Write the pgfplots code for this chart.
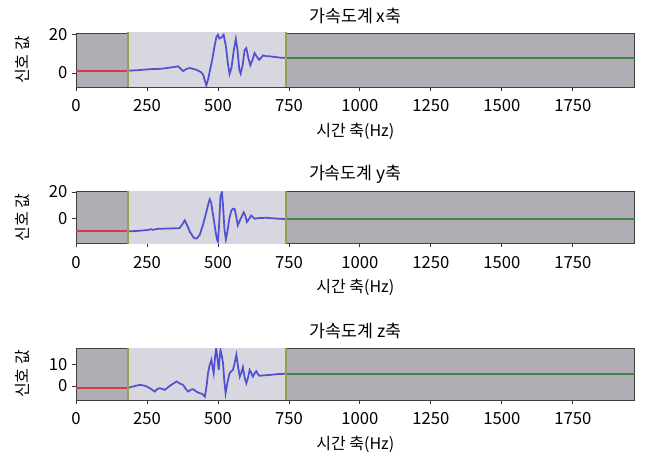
\documentclass[border=0pt]{standalone}
\usepackage{pgfplots}
\pgfplotsset{compat=1.18}
\usepackage{fontspec}
\setmainfont{Noto Sans CJK KR}

\definecolor{outbg}{RGB}{176,174,180}
\definecolor{midbg}{RGB}{216,214,222}
\definecolor{redline}{RGB}{210,60,65}
\definecolor{blueline}{RGB}{80,80,210}
\definecolor{greenline}{RGB}{60,135,75}
\definecolor{markline}{RGB}{150,160,80}

\pgfplotsset{
  accel/.style={
    scale only axis,
    width=419pt,
    xmin=0, xmax=1968,
    xtick={0,250,...,1750},
    axis background/.style={fill=outbg},
    tick align=outside,
    xtick pos=bottom, ytick pos=left,
    major tick length=3pt,
    tick style={black!80, semithick},
    axis line style={black!75},
    ticklabel style={font=\fontsize{12.5}{14}\selectfont},
    xticklabel style={yshift=-3pt},
    /pgf/number format/assume math mode=true,
    /pgf/number format/1000 sep={},
    scaled ticks=false,
    xlabel={시간 축(Hz)},
    ylabel={신호 값},
    every axis x label/.style={at={(axis description cs:0.5,0)}, yshift=-33pt, anchor=center, font=\fontsize{12}{14}\selectfont},
    every axis y label/.style={at={(axis description cs:0,0.5)}, xshift=-40pt, rotate=90, anchor=center, font=\fontsize{12}{14}\selectfont},
    every axis title/.style={at={(axis description cs:0.5,1)}, yshift=13pt, anchor=center, font=\fontsize{13}{15}\selectfont},
  },
  regions/.style={fill=midbg, draw=none, forget plot},
  marker/.style={markline, line width=1.3pt, forget plot},
  sig/.style={line width=1.3pt},
}

\begin{document}
\begin{tikzpicture}
\useasboundingbox (0,0) rectangle (484.5pt,344.25pt);

% x axis accelerometer
\begin{axis}[accel, at={(57pt,279pt)}, height=40.5pt,
  ymin=-7.3, ymax=20.9, ytick={0,20}, title={가속도계 x축}]
  \addplot[regions] coordinates {(182,-40) (740,-40) (740,40) (182,40) (182,-40)};
  \addplot[sig, redline] coordinates {(0,1.2) (182,1.2)};
  \addplot[sig, blueline] coordinates {
    (182,1.2) (220,1.5) (260,2.0) (300,2.2) (330,2.8) (360,3.5) (377,1.0)
    (390,2.2) (401,2.6) (424,1.7) (440,0.5) (448,-0.9) (459,-6.5) (466,-3)
    (471,0.8) (480,7) (489,14.8) (495,19) (500,20) (505,18) (512,18.5)
    (520,20) (528,14) (535,5) (541,-0.5) (548,3) (556,12) (563,17.8)
    (569,12) (575,2) (580,-0.3) (587,4) (594,12) (600,13) (607,8)
    (614,4) (622,7) (629,10.4) (637,8.5) (645,6.9) (652,8) (659,9.2)
    (670,8.8) (682,8.7) (700,8.4) (720,8.0) (740,8.0)};
  \addplot[sig, greenline] coordinates {(740,8.0) (1968,8.0)};
  \addplot[marker] coordinates {(182,-40) (182,40)};
  \addplot[marker] coordinates {(740,-40) (740,40)};
\end{axis}

% y axis accelerometer
\begin{axis}[accel, at={(57pt,161.8pt)}, height=38.7pt,
  ymin=-18.3, ymax=20.2, ytick={0,20}, title={가속도계 y축}]
  \addplot[regions] coordinates {(182,-40) (740,-40) (740,40) (182,40) (182,-40)};
  \addplot[sig, redline] coordinates {(0,-9.2) (182,-9.2)};
  \addplot[sig, blueline] coordinates {
    (182,-9.5) (220,-9) (250,-8.5) (265,-7.8) (270,-8.3) (290,-7.5) (330,-7.3)
    (365,-7) (375,-4) (383,-1.2) (392,-5) (401,-9.7) (416,-14.5) (425,-14.8)
    (436,-12) (448,-4) (459,4.8) (466,11) (471,14.5) (476,12) (485,0)
    (492,-10) (497,-15.7) (500,-17) (504,-5) (509,16.9) (514,19.7) (518,10)
    (523,-8) (528,-15.5) (533,-10) (540,0) (547,6) (553,7.5) (559,7.2)
    (565,1) (570,-4.9) (580,0) (591,4.8) (597,2) (602,-2.4) (610,0)
    (617,2.4) (629,0) (645,0.5) (670,0.7) (700,0.2) (740,-0.3)};
  \addplot[sig, greenline] coordinates {(740,-0.3) (1968,-0.3)};
  \addplot[marker] coordinates {(182,-40) (182,40)};
  \addplot[marker] coordinates {(740,-40) (740,40)};
\end{axis}

% z axis accelerometer
\begin{axis}[accel, at={(57pt,44.25pt)}, height=38.8pt,
  ymin=-6.7, ymax=17.9, ytick={0,10}, title={가속도계 z축}]
  \addplot[regions] coordinates {(182,-40) (740,-40) (740,40) (182,40) (182,-40)};
  \addplot[sig, redline] coordinates {(0,-1.0) (182,-1.0)};
  \addplot[sig, blueline] coordinates {
    (182,-1.0) (200,-0.3) (225,0.5) (245,0) (260,-1.1) (270,-2) (278,-2.7)
    (286,-1.5) (295,-1.1) (305,-1.5) (313,-1.9) (330,0) (354,2.1) (365,1.2)
    (377,0.5) (387,-1.5) (395,-2.7) (405,-1.8) (413,-1.6) (425,-2.8)
    (436,-3.5) (445,-3.8) (454,-5.1) (460,0) (465,6) (471,10) (477,12.4)
    (481,9) (485,6) (490,14) (494,18) (499,12) (503,7.6) (506,13) (509,17.1)
    (514,14) (518,10.8) (522,3) (527,-3.5) (534,2) (541,6) (547,7) (553,7.6)
    (559,11) (565,14.8) (571,9) (577,4.4) (583,6.5) (588,8.9) (594,4)
    (600,1.3) (606,4) (612,7.6) (618,6) (623,4.4) (629,6) (635,7) (641,5.5)
    (647,4.8) (660,5.0) (682,5.2) (710,5.6) (740,5.8)};
  \addplot[sig, greenline] coordinates {(740,5.8) (1968,5.8)};
  \addplot[marker] coordinates {(182,-40) (182,40)};
  \addplot[marker] coordinates {(740,-40) (740,40)};
\end{axis}
\end{tikzpicture}
\end{document}
